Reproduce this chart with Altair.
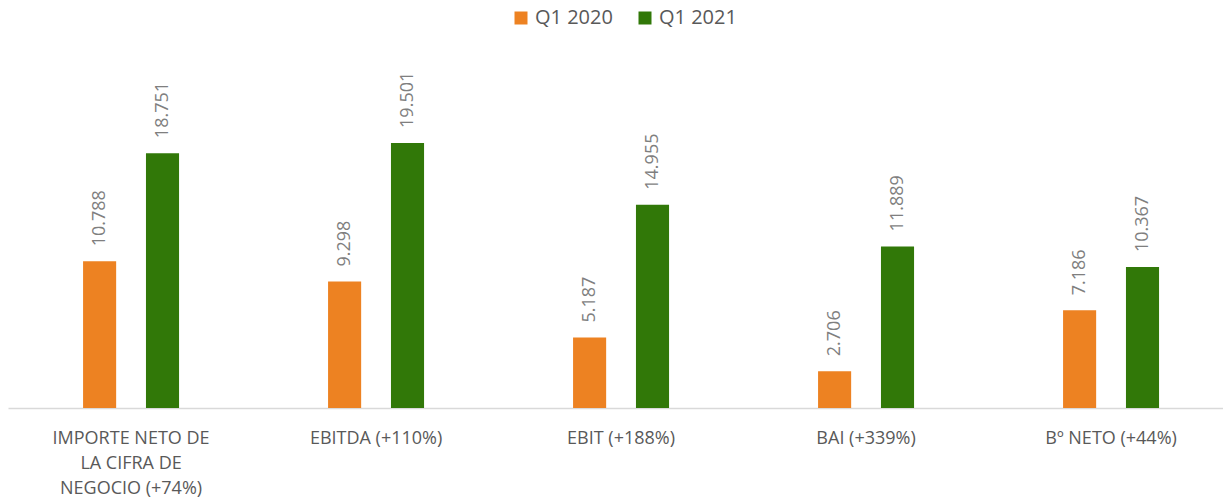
import altair as alt
import pandas as pd

categories = [
    "IMPORTE NETO DE\nLA CIFRA DE\nNEGOCIO (+74%)",
    "EBITDA (+110%)",
    "EBIT (+188%)",
    "BAI (+339%)",
    "Bº NETO (+44%)",
]
series = ["Q1 2020", "Q1 2021"]
q1_2020 = [10.788, 9.298, 5.187, 2.706, 7.186]
q1_2021 = [18.751, 19.501, 14.955, 11.889, 10.367]
colors = ["#ED8222", "#317808"]

rows = []
for c, a, b in zip(categories, q1_2020, q1_2021):
    rows.append({"cat": c, "serie": series[0], "valor": a})
    rows.append({"cat": c, "serie": series[1], "valor": b})
df = pd.DataFrame(rows)

FONT = "Open Sans"

x = alt.X(
    "cat:N",
    sort=categories,
    title=None,
    scale=alt.Scale(paddingInner=0.6082, paddingOuter=0.2837, align=0.54),
    axis=alt.Axis(
        labelAngle=0,
        labelExpr="split(datum.label, '\\n')",
        labelFont=FONT,
        labelFontSize=18,
        labelColor="#595959",
        labelLineHeight=25,
        labelPadding=21,
        labelLimit=400,
        labelOverlap=False,
        ticks=False,
        domainColor="#D9D9D9",
        domainWidth=1.5,
        grid=False,
    ),
)
xoff = alt.XOffset("serie:N", sort=series, scale=alt.Scale(paddingInner=0.474, paddingOuter=0))
y = alt.Y("valor:Q", scale=alt.Scale(domain=[0, 27], nice=False), axis=None)

base = alt.Chart(df).encode(x=x, xOffset=xoff, y=y)

bars = base.mark_bar().encode(
    color=alt.Color(
        "serie:N",
        sort=series,
        scale=alt.Scale(domain=series, range=colors),
        legend=alt.Legend(
            title=None,
            orient="none",
            direction="horizontal",
            legendX=503,
            legendY=-33,
            symbolType="square",
            symbolSize=169,
            symbolStrokeWidth=0,
            labelFont=FONT,
            labelFontSize=20,
            labelColor="#595959",
            labelOffset=4,
            columnPadding=22,
        ),
    )
)

labels = base.mark_text(
    angle=270,
    align="left",
    baseline="middle",
    dx=15,
    font=FONT,
    fontSize=18,
    color="#7F7F7F",
).encode(text=alt.Text("valor:Q", format=".3f"))

chart = (
    alt.layer(bars, labels)
    .properties(
        width=1215,
        height=367,
        background="white",
        autosize=alt.AutoSizeParams(type="none"),
        padding={"left": 0, "top": 33, "right": 0, "bottom": 91},
    )
    .configure_view(stroke=None, strokeWidth=0)
)

chart.save("out.html", embed_options={"renderer": "svg", "actions": False})
